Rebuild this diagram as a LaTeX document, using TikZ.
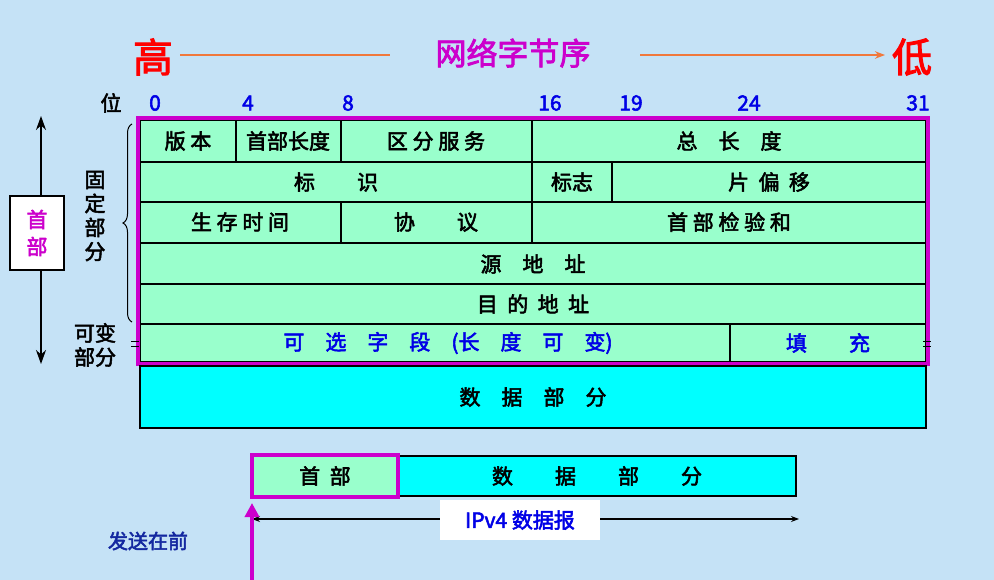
\documentclass[tikz,border=0pt]{standalone}
\usepackage{fontspec}
\setmainfont{Noto Sans CJK SC}[FakeBold=2.5]
\usetikzlibrary{arrows.meta,decorations.pathreplacing}
\definecolor{bg}{RGB}{197,226,246}
\definecolor{cell}{RGB}{153,255,204}
\definecolor{aqua}{RGB}{0,255,255}
\definecolor{mag}{RGB}{204,0,204}
\definecolor{bl}{RGB}{0,0,230}
\definecolor{dbl}{RGB}{20,40,160}
\definecolor{org}{RGB}{240,120,60}
\tikzset{
 cellbox/.style={draw=black,line width=1.2pt,fill=cell},
 txt/.style={font=\fontsize{21}{24}\selectfont},
 bit/.style={font=\fontsize{21}{24}\selectfont,text=bl},
}
\begin{document}
\begin{tikzpicture}[x=1pt,y=-1pt]
\useasboundingbox (0,0) rectangle (994,580);
\fill[bg] (0,0) rectangle (994,580);
% title
\node[font=\fontsize{40}{42}\selectfont,text=red] (hi) at (153,57) {高};
\node[font=\fontsize{31}{34}\selectfont,text=mag] (title) at (513,53) {网络字节序};
\node[font=\fontsize{40}{42}\selectfont,text=red] (lo) at (912,57) {低};
\draw[org,line width=1.5pt] (180,55) -- (390,55);
\draw[org,line width=1.5pt,-{Stealth[length=10pt]}] (640,55) -- (885,55);
% bits
\node[txt] (wei) at (111,103) {位};
\foreach \x/\t in {155/0,248/4,348/8,550/16,631/19,749/24,918/31}
  \node[bit] at (\x,103) {\t};
% rows
\draw[cellbox] (140,120) rectangle (926,362);
\foreach \y in {162,202,243,284,324} \draw[line width=1.2pt] (140,\y) -- (926,\y);
\draw[line width=1.2pt] (236,120)--(236,162) (341,120)--(341,162) (532,120)--(532,162);
\draw[line width=1.2pt] (532,162)--(532,202) (612,162)--(612,202);
\draw[line width=1.2pt] (341,202)--(341,243) (532,202)--(532,243);
\draw[line width=1.2pt] (730,324)--(730,362);
\node[txt] (c1) at (188,141) {版 本};
\node[txt] (c2) at (288,141) {首部长度};
\node[txt] (c3) at (436,141) {区 分 服 务};
\node[txt] (c4) at (729,141) {总\quad 长\quad 度};
\node[txt] (c5) at (336,182) {标\qquad 识};
\node[txt] (c6) at (572,182) {标志};
\node[txt] (c7) at (769,182) {片\ \ 偏\ \ 移};
\node[txt] (c8) at (240,222) {生 存 时 间};
\node[txt] (c9) at (436,222) {协\qquad 议};
\node[txt] (c10) at (729,222) {首 部 检 验 和};
\node[txt] (c11) at (533,264) {源\quad 地\quad 址};
\node[txt] (c12) at (533,304) {目\ \ 的\ \ 地\ \ 址};
\node[txt,text=bl] (c13) at (448,343) {可\quad 选\quad 字\quad 段\quad (长\quad 度\quad 可\quad 变)};
\node[txt,text=bl] (c14) at (828,343) {填\qquad 充};
\draw[mag,line width=4.5pt] (138,118) rectangle (928,364);
\foreach \x in {135,927} {\draw[black,line width=1pt] (\x-4,341)--(\x+4,341) (\x-4,346)--(\x+4,346);}
% data
\draw[line width=1.5pt,fill=aqua] (140,366) rectangle (926,428);
\node[txt] (data) at (533,397) {数\quad 据\quad 部\quad 分};
% left side
\node[draw=black,line width=1.2pt,fill=white,minimum width=54pt,minimum height=74pt,align=center,
      font=\fontsize{21}{27}\selectfont,text=mag] (hdr) at (37,233) {首\\部};
\coordinate (atop) at (41,116);
\coordinate (abot) at (41,364);
\draw[line width=1.5pt,-{Stealth[length=14pt,width=10pt]}] (41,196) -- (atop);
\draw[line width=1.5pt,-{Stealth[length=14pt,width=10pt]}] (41,270) -- (abot);
\node[align=center,inner sep=0pt,font=\fontsize{21}{24}\selectfont] (fixed) at (95,216) {固\\定\\部\\分};
\draw[line width=1pt,decorate,decoration={brace,amplitude=9pt}] (132,322) -- (132,124);
\node[align=center,inner sep=0pt,font=\fontsize{21}{24}\selectfont] (var) at (95,345) {可变\\部分};
% bottom
\draw[line width=1.5pt,fill=aqua] (398,456) rectangle (796,496);
\draw[mag,line width=4.5pt,fill=cell] (252,455) rectangle (398,497);
\node[txt] (bh) at (325,476) {首\ \ 部};
\node[txt] (bd) at (597,476) {数\qquad 据\qquad 部\qquad 分};
\coordinate (l) at (252,519);
\coordinate (r) at (799,519);
\draw[line width=1.2pt,{Stealth[length=8pt]}-{Stealth[length=8pt]}] (l) -- (r);
\node[fill=white,minimum width=160pt,minimum height=40pt,txt,text=bl] (ipv4) at (520,520) {IPv4 数据报};
\coordinate (ms) at (252,580);
\coordinate (me) at (252,503);
\draw[mag,line width=3.5pt,-{Triangle[length=14pt,width=14pt]}] (ms) -- (me);
\node[font=\fontsize{20}{22}\selectfont,text=dbl] (send) at (148,541) {发送在前};
\end{tikzpicture}
\end{document}
